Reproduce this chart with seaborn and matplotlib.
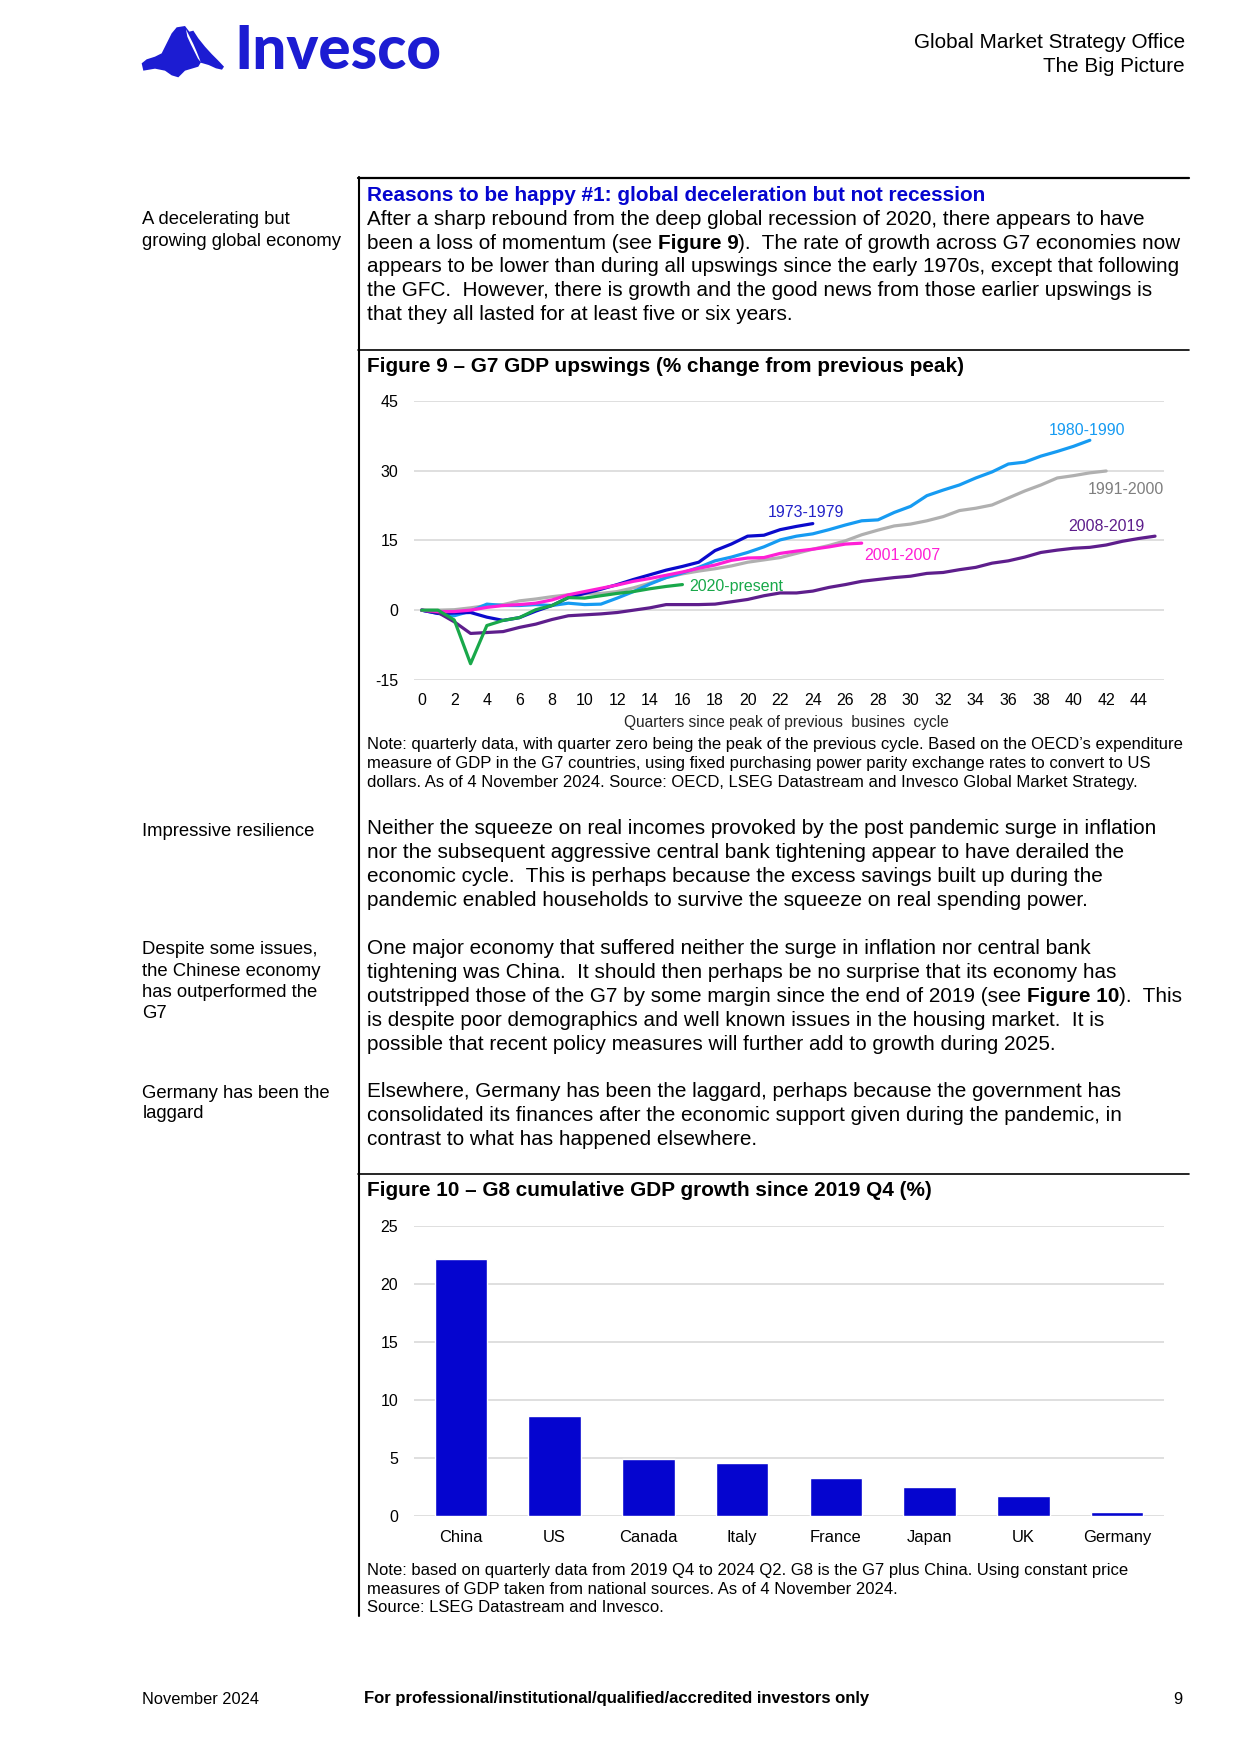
import numpy as np
import pandas as pd
import matplotlib
matplotlib.use("Agg")
import matplotlib.pyplot as plt
import seaborn as sns
from matplotlib.lines import Line2D
from matplotlib.patches import Polygon

# ---------------- data ----------------
cycles = ["1973-1979", "1980-1990", "1991-2000", "2001-2007", "2008-2019", "2020-present"]
s1973 = [0, -0.7, -0.6, -0.5, -1.5, -2.2, -1.6, -0.2, 1.0, 2.7, 3.6, 4.5, 5.5, 6.6, 7.6, 8.6,
         9.4, 10.3, 12.8, 14.2, 15.9, 16.1, 17.3, 18.0, 18.6]
s1980 = [0, -0.7, -1.2, -0.2, 1.3, 1.0, 1.0, 1.2, 1.0, 1.5, 1.2, 1.3, 2.6, 4.0, 5.6, 7.0, 8.0,
         9.2, 10.6, 11.4, 12.4, 13.6, 15.1, 15.9, 16.4, 17.3, 18.3, 19.2, 19.4, 21.0, 22.3,
         24.6, 25.8, 26.9, 28.4, 29.7, 31.4, 31.8, 33.1, 34.1, 35.2, 36.5]
s1991 = [0, 0, 0.1, 0.5, 1.0, 1.2, 2.0, 2.4, 2.9, 3.3, 3.5, 3.6, 4.0, 4.8, 5.8, 7.0, 7.8, 8.4,
         8.9, 9.5, 10.3, 10.8, 11.3, 12.2, 13.1, 13.9, 14.9, 16.2, 17.2, 18.1, 18.5, 19.2,
         20.1, 21.4, 21.9, 22.6, 24.1, 25.6, 26.9, 28.4, 28.9, 29.5, 29.9]
s2001 = [0, -0.3, -0.3, 0, 0.6, 1.0, 1.2, 1.5, 2.2, 3.3, 4.0, 4.7, 5.4, 6.2, 6.8, 7.5, 8.2,
         9.0, 9.7, 10.7, 11.2, 11.3, 12.2, 12.7, 13.1, 13.6, 14.2, 14.4]
s2008 = [0, -0.5, -2.5, -5.0, -4.8, -4.6, -3.7, -3.0, -2.0, -1.2, -1.0, -0.8, -0.5, 0, 0.5,
         1.2, 1.2, 1.2, 1.3, 1.8, 2.3, 3.1, 3.7, 3.7, 4.1, 4.9, 5.5, 6.2, 6.6, 7.0, 7.3, 7.9,
         8.1, 8.7, 9.2, 10.1, 10.6, 11.4, 12.4, 12.9, 13.3, 13.5, 14.0, 14.8, 15.4, 15.9]
s2020 = [0, 0, -2.1, -11.5, -3.3, -2.2, -1.6, 0.1, 1.0, 2.7, 2.6, 3.1, 3.6, 4.0, 4.6, 5.1, 5.5]
series = [s1973, s1980, s1991, s2001, s2008, s2020]
x_ticks = list(range(0, 45, 2))
y_ticks = [-15, 0, 15, 30, 45]

countries = ["China", "US", "Canada", "Italy", "France", "Japan", "UK", "Germany"]
growth = [22.1, 8.6, 4.9, 4.6, 3.3, 2.5, 1.7, 0.35]
bar_ticks = [0, 5, 10, 15, 20, 25]

# ---------------- style ----------------
sns.set_theme(style="white")
FONT = ["Liberation Sans", "DejaVu Sans"]
plt.rcParams["font.family"] = FONT

line_colors = {"1973-1979": "#0A0ACC", "1980-1990": "#169BF2", "1991-2000": "#B0B0B0",
               "2001-2007": "#FF1FD6", "2008-2019": "#5E1E8C", "2020-present": "#19A84A"}
label_colors = dict(line_colors)
label_colors["1991-2000"] = "#7F7F7F"
label_colors["1973-1979"] = "#2323C8"
BLUE = "#0505CF"
GRID = "#D9D9D9"

W, H = 1240, 1754
fig = plt.figure(figsize=(W / 100, H / 100), dpi=100)
fig.patch.set_facecolor("white")
renderer = fig.canvas.get_renderer()
DY = 1.5  # visual-centre correction for va="center"


def fx(x):
    return x / W


def fy(y):
    return 1 - y / H


def twidth(s, size, weight="normal", family=FONT):
    t = fig.text(0, 0, s, fontsize=size, fontweight=weight, family=family)
    w = t.get_window_extent(renderer).width
    t.remove()
    return w


def fit(s, target, weight="normal", family=FONT):
    return 10.0 * target / twidth(s, 10, weight, family)


def put(x, y, s, size, weight="normal", color="black", ha="left", va="center", family=FONT):
    yy = y + DY if va == "center" else y
    return fig.text(fx(x), fy(yy), s, fontsize=size, fontweight=weight, color=color,
                    ha=ha, va=va, family=family)


def runs(x, y, parts, size, color="black"):
    for s, wgt in parts:
        put(x, y, s, size, weight=wgt, color=color)
        x += twidth(s + "|", size, wgt) - twidth("|", size, wgt)


# font sizes fitted to reference line widths
BODY = fit("appears to be lower than during all upswings since the early 1970s, except that following", 815)
SIDE = fit("growing global economy", 201)
NOTE = fit("Note: quarterly data, with quarter zero being the peak of the previous cycle. Based on the OECD\u2019s expenditure", 814)
HEAD = fit("Global Market Strategy Office", 271)
FOOT = fit("November 2024", 117)
FOOTB = fit("For professional/institutional/qualified/accredited investors only", 509, "bold")
TITLE = fit("Reasons to be happy #1: global deceleration but not recession", 619, "bold")
FIG = fit("Figure 9 \u2013 G7 GDP upswings (% change from previous peak)", 599, "bold")
TICK = 11.5

# ---------------- header / logo ----------------
LOGO_FONT = ["Lato", "DejaVu Sans"]
logo_size = fit("Invesco", 206, "black", LOGO_FONT)
put(234, 69, "Invesco", logo_size, weight="black", color="#1C1CD2", va="baseline",
    family=LOGO_FONT)
mtn = [(35, 190), (50, 178), (75, 170), (95, 160), (110, 130), (125, 100), (140, 82), (165, 78),
       (178, 95), (190, 92), (205, 115), (225, 140), (245, 162), (265, 182), (282, 200),
       (276, 209), (258, 205), (236, 195), (212, 188), (205, 200), (185, 206), (165, 212),
       (145, 232), (125, 226), (105, 212), (75, 206), (40, 212)]
fig.add_artist(Polygon([(fx(130 + a / 3), fy(b / 3)) for a, b in mtn], closed=True,
                       transform=fig.transFigure, facecolor="#1C1CD2", edgecolor="none"))
snow = [(168, 88), (178, 108), (190, 132), (200, 155), (208, 175), (212, 186),
        (204, 176), (194, 156), (183, 134), (172, 110)]
fig.add_artist(Polygon([(fx(130 + a / 3), fy(b / 3)) for a, b in snow], closed=True,
                       transform=fig.transFigure, facecolor="white", edgecolor="none"))
put(1185, 41, "Global Market Strategy Office", HEAD, ha="right")
put(1185, 65.5, "The Big Picture", HEAD, ha="right")

# ---------------- rules ----------------
fig.add_artist(Line2D([fx(358.5), fx(358.5)], [fy(177), fy(1616)], transform=fig.transFigure,
                      color="black", lw=1.5))
for yy in [177.5, 349.5, 1174]:
    fig.add_artist(Line2D([fx(358), fx(1189)], [fy(yy), fy(yy)], transform=fig.transFigure,
                          color="black", lw=1.2 if yy > 178 else 1.6))

# ---------------- sidebar ----------------
side = [(218, "A decelerating but"), (239.5, "growing global economy"),
        (830.5, "Impressive resilience"),
        (947.5, "Despite some issues,"), (969.5, "the Chinese economy"),
        (991, "has outperformed the"), (1012, "G7"),
        (1091.5, "Germany has been the"), (1112.5, "laggard")]
for yy, s in side:
    put(142.5, yy, s, SIDE)

# ---------------- body ----------------
BX = 367
put(BX, 194, "Reasons to be happy #1: global deceleration but not recession", TITLE,
    weight="bold", color=BLUE)
put(BX, 218, "After a sharp rebound from the deep global recession of 2020, there appears to have", BODY)
runs(BX, 241.7, [("been a loss of momentum (see ", "normal"), ("Figure 9", "bold"),
                 (").  The rate of growth across G7 economies now", "normal")], BODY)
put(BX, 265.5, "appears to be lower than during all upswings since the early 1970s, except that following", BODY)
put(BX, 289, "the GFC.  However, there is growth and the good news from those earlier upswings is", BODY)
put(BX, 312.7, "that they all lasted for at least five or six years.", BODY)

put(BX, 365, "Figure 9 \u2013 G7 GDP upswings (% change from previous peak)", FIG, weight="bold")

para2 = ["Neither the squeeze on real incomes provoked by the post pandemic surge in inflation",
         "nor the subsequent aggressive central bank tightening appear to have derailed the",
         "economic cycle.  This is perhaps because the excess savings built up during the",
         "pandemic enabled households to survive the squeeze on real spending power."]
for i, s in enumerate(para2):
    put(BX, 826.7 + 24.1 * i, s, BODY)

put(BX, 946.7, "One major economy that suffered neither the surge in inflation nor central bank", BODY)
put(BX, 970.9, "tightening was China.  It should then perhaps be no surprise that its economy has", BODY)
runs(BX, 995, [("outstripped those of the G7 by some margin since the end of 2019 (see ", "normal"),
               ("Figure 10", "bold"), (").  This", "normal")], BODY)
put(BX, 1019.2, "is despite poor demographics and well known issues in the housing market.  It is", BODY)
put(BX, 1043.3, "possible that recent policy measures will further add to growth during 2025.", BODY)

para4 = ["Elsewhere, Germany has been the laggard, perhaps because the government has",
         "consolidated its finances after the economic support given during the pandemic, in",
         "contrast to what has happened elsewhere."]
for i, s in enumerate(para4):
    put(BX, 1090 + 24 * i, s, BODY)

put(BX, 1189.3, "Figure 10 \u2013 G8 cumulative GDP growth since 2019 Q4 (%)", FIG, weight="bold")

# ---------------- Figure 9: line chart ----------------
df = pd.DataFrame({
    "cycle": np.concatenate([[c] * len(s) for c, s in zip(cycles, series)]),
    "quarter": np.concatenate([np.arange(len(s)) for s in series]),
    "value": np.concatenate([np.asarray(s, float) for s in series]),
})
ax1 = fig.add_axes([fx(414), fy(680), (1164 - 414) / W, (680 - 400.7) / H])
sns.lineplot(data=df, x="quarter", y="value", hue="cycle",
             hue_order=["1991-2000", "1980-1990", "1973-1979", "2008-2019", "2001-2007", "2020-present"],
             palette=line_colors, lw=2.3, legend=False, errorbar=None, estimator=None, ax=ax1)
ax1.set_xlim(-0.47, 45.55)
ax1.set_ylim(-15, 45)
ax1.set_xticks(x_ticks)
ax1.set_yticks(y_ticks)
ax1.set_yticklabels([str(v) for v in y_ticks])
ax1.yaxis.grid(True, color=GRID, lw=1.2)
ax1.xaxis.grid(False)
ax1.set_axisbelow(True)
for sp in ax1.spines.values():
    sp.set_visible(False)
ax1.tick_params(axis="both", length=0, labelsize=TICK, colors="black")
ax1.tick_params(axis="y", pad=11.5)
ax1.tick_params(axis="x", pad=9.4)
ax1.set_ylabel("")
ax1.set_xlabel("Quarters since peak of previous  busines  cycle", fontsize=TICK - 0.3)
ax1.xaxis.set_label_coords(0.497, (680 - 722.5) / (680 - 400.7))
ax1.xaxis.label.set_va("center")

lab_pos = {"1980-1990": (40.8, 38.5), "1991-2000": (43.2, 25.9), "1973-1979": (23.6, 20.9),
           "2008-2019": (42.0, 18.0), "2001-2007": (29.5, 11.7), "2020-present": (19.3, 5.0)}
for c, (lx, ly) in lab_pos.items():
    ax1.text(lx, ly, c, color=label_colors[c], fontsize=TICK, ha="center", va="center")

notes9 = ["Note: quarterly data, with quarter zero being the peak of the previous cycle. Based on the OECD\u2019s expenditure",
          "measure of GDP in the G7 countries, using fixed purchasing power parity exchange rates to convert to US",
          "dollars. As of 4 November 2024. Source: OECD, LSEG Datastream and Invesco Global Market Strategy."]
for i, s in enumerate(notes9):
    put(BX, 743.5 + 18.6 * i, s, NOTE)

# ---------------- Figure 10: bar chart ----------------
ax2 = fig.add_axes([fx(414), fy(1516), (1164 - 414) / W, (1516 - 1225.7) / H])
sns.barplot(x=countries, y=growth, color=BLUE, saturation=1, width=0.56, ax=ax2)
ax2.set_xlim(-0.5, len(countries) - 0.5)
ax2.set_ylim(0, 25)
ax2.set_yticks(bar_ticks)
ax2.set_yticklabels([str(v) for v in bar_ticks])
ax2.yaxis.grid(True, color=GRID, lw=1.2)
ax2.xaxis.grid(False)
ax2.set_axisbelow(True)
for sp in ax2.spines.values():
    sp.set_visible(False)
ax2.tick_params(axis="both", length=0, labelsize=TICK, colors="black")
ax2.tick_params(axis="y", pad=11.5)
ax2.tick_params(axis="x", pad=10.2, labelsize=TICK + 0.4)
ax2.set_xlabel("")
ax2.set_ylabel("")

notes10 = ["Note: based on quarterly data from 2019 Q4 to 2024 Q2. G8 is the G7 plus China. Using constant price",
           "measures of GDP taken from national sources. As of 4 November 2024.",
           "Source: LSEG Datastream and Invesco."]
for i, s in enumerate(notes10):
    put(BX, 1568.5 + 19 * i, s, NOTE)

# ---------------- footer ----------------
put(142.5, 1697.5, "November 2024", FOOT)
put(364, 1697.5, "For professional/institutional/qualified/accredited investors only", FOOTB, weight="bold")
put(1182.5, 1697.5, "9", FOOT, ha="right")

fig.savefig("out.png", dpi=100, facecolor="white")
